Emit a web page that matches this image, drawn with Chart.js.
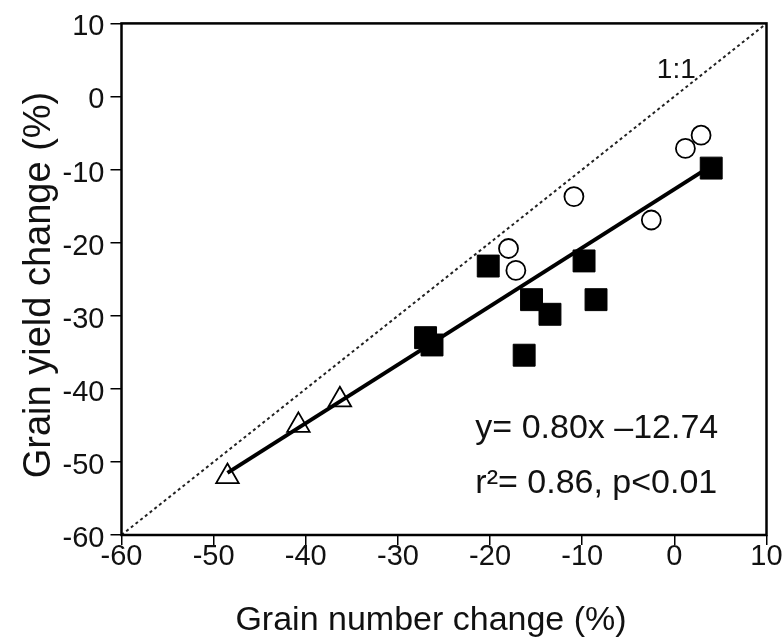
<!DOCTYPE html>
<html>
<head>
<meta charset="utf-8">
<script src="https://cdn.jsdelivr.net/npm/chart.js@4"></script>
<style>
  html, body { margin: 0; padding: 0; background: #fff; }
  #wrap { width: 783px; height: 643px; }
</style>
</head>
<body>
<div id="wrap"><canvas id="chart"></canvas></div>
<script>
// points: [grain number change, grain yield change]
const trianglePts = [[-48.5, -52], [-40.8, -45], [-36.3, -41.5]];
const squarePts = [[-27, -33], [-26.3, -34], [-20.2, -23.2], [-15.5, -27.8], [-13.5, -29.8],
                   [-16.3, -35.4], [-9.8, -22.5], [-8.5, -27.8], [4, -9.8]];
const circlePts = [[-18, -20.8], [-17.2, -23.8], [-10.9, -13.7], [-2.5, -16.9], [1.2, -7.1], [2.9, -5.3]];
const fitLine = [[-48.5, -51.5], [4, -9.5]];
const oneToOne = [[-60, -60], [10, 10]];
const xTicks = [-60, -50, -40, -30, -20, -10, 0, 10];
const yTicks = [-60, -50, -40, -30, -20, -10, 0, 10];
const xTitle = 'Grain number change (%)';
const yTitle = 'Grain yield change (%)';

const FONT = "'Liberation Sans', Arial, sans-serif";
const toXY = arr => arr.map(p => ({ x: p[0], y: p[1] }));

// box around plot, axis titles and text labels
const extras = {
    id: 'extras',
    afterDraw(chart) {
        const { ctx, chartArea: a, scales: { x, y } } = chart;
        ctx.save();
        ctx.strokeStyle = '#000';
        ctx.lineWidth = 2.5;
        ctx.strokeRect(a.left, a.top, a.right - a.left, a.bottom - a.top);

        ctx.fillStyle = '#111';
        ctx.textBaseline = 'middle';
        ctx.font = '28px ' + FONT;
        ctx.fillText('1:1', x.getPixelForValue(-1.9), y.getPixelForValue(3.6));
        ctx.font = '34px ' + FONT;
        ctx.fillText('y= 0.80x \u201312.74', x.getPixelForValue(-21.6), y.getPixelForValue(-45.4));
        ctx.fillText('r\u00b2= 0.86, p<0.01', x.getPixelForValue(-21.6), y.getPixelForValue(-53.0));

        // axis titles
        ctx.textAlign = 'center';
        ctx.textBaseline = 'alphabetic';
        ctx.font = '34px ' + FONT;
        ctx.fillText(xTitle, 431, 630);
        ctx.translate(50, 285);
        ctx.rotate(-Math.PI / 2);
        ctx.font = '38px ' + FONT;
        ctx.fillText(yTitle, 0, 0);
        ctx.restore();
    }
};

new Chart(document.getElementById('chart'), {
    type: 'scatter',
    data: {
        datasets: [
            {
                label: '1:1',
                type: 'line',
                data: toXY(oneToOne),
                borderColor: '#222',
                borderWidth: 2,
                borderDash: [3, 3],
                pointRadius: 0
            },
            {
                label: 'fit',
                type: 'line',
                data: toXY(fitLine),
                borderColor: '#000',
                borderWidth: 4,
                pointRadius: 0
            },
            {
                label: 'triangles',
                data: toXY(trianglePts),
                pointStyle: 'triangle',
                pointRadius: 13,
                backgroundColor: '#fff',
                borderColor: '#000',
                borderWidth: 1.8
            },
            {
                label: 'squares',
                data: toXY(squarePts),
                pointStyle: 'rect',
                pointRadius: 15.5,
                backgroundColor: '#000',
                borderColor: '#000',
                borderWidth: 1
            },
            {
                label: 'circles',
                data: toXY(circlePts),
                pointStyle: 'circle',
                pointRadius: 9.5,
                backgroundColor: '#fff',
                borderColor: '#000',
                borderWidth: 1.8
            }
        ]
    },
    options: {
        responsive: true,
        maintainAspectRatio: false,
        animation: false,
        layout: { padding: { top: 15, right: 16.5, left: 0, bottom: 0 } },
        plugins: {
            legend: { display: false },
            tooltip: { enabled: false }
        },
        scales: {
            x: {
                type: 'linear',
                min: -60,
                max: 10,
                afterBuildTicks: axis => { axis.ticks = xTicks.map(v => ({ value: v })); },
                afterFit: axis => { axis.height = 108; },
                grid: { drawOnChartArea: false, drawTicks: true, tickLength: 10, color: '#000', lineWidth: 1.5 },
                border: { display: false },
                ticks: { color: '#111', font: { family: FONT, size: 29 }, padding: -5, maxRotation: 0 },
                title: { display: false }
            },
            y: {
                type: 'linear',
                min: -60,
                max: 10,
                afterBuildTicks: axis => { axis.ticks = yTicks.map(v => ({ value: v })); },
                afterFit: axis => { axis.width = 121.5; },
                grid: { drawOnChartArea: false, drawTicks: true, tickLength: 11, color: '#000', lineWidth: 1.5 },
                border: { display: false },
                ticks: { color: '#111', font: { family: FONT, size: 29 }, padding: 6, labelOffset: 4 },
                title: { display: false }
            }
        }
    },
    plugins: [extras]
});
</script>
</body>
</html>
